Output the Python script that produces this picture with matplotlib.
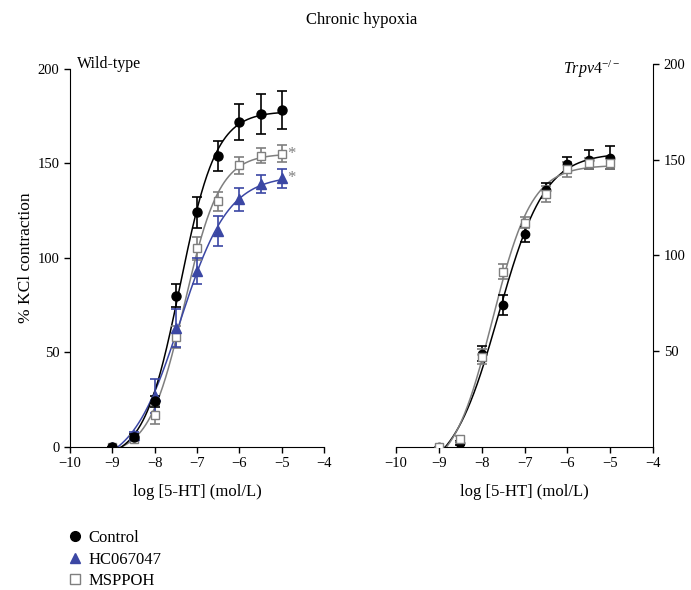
import numpy as np
import matplotlib
matplotlib.use('Agg')
from matplotlib import pyplot as plt
from matplotlib.lines import Line2D

plt.rcParams['font.family'] = ['Liberation Serif', 'DejaVu Serif']
plt.rcParams['mathtext.fontset'] = 'custom'
plt.rcParams['mathtext.rm'] = 'Liberation Serif'
plt.rcParams['mathtext.it'] = 'Liberation Serif:italic'
plt.rcParams['font.size'] = 10

log_dose = [-9, -8.5, -8, -7.5, -7, -6.5, -6, -5.5, -5]

# wild-type
wt_control = [0, 5, 24, 80, 124, 154, 172, 176, 178]
wt_control_err = [0, 1.5, 3, 6, 8, 8, 9.5, 10.5, 10]
wt_hc = [0, 6, 27, 63, 93, 114, 131, 139, 142]
wt_hc_err = [0, 2, 9, 10, 7, 8, 6, 5, 5]
wt_ms = [0, 4, 17, 58, 105, 130, 149, 154, 155]
wt_ms_err = [0, 1.5, 5, 6, 6, 5, 4.5, 4, 4.5]

# Trpv4 -/-
ko_control = [0, 2, 48.5, 74, 111, 134, 147.5, 150, 151]
ko_control_err = [0, 1, 4, 5, 4, 4, 4, 5, 6]
ko_ms = [0, 4, 47, 91.5, 117, 132, 145, 148, 148]
ko_ms_err = [0, 1.5, 4, 4, 3, 4, 4, 3, 3]

BLACK = 'black'
BLUE = '#3b47a4'
GRAY = '#7f7f7f'


def hill_fit(x, y):
    # 4-parameter logistic, grid over logEC50 / slope, linear solve for bottom/top
    x = np.asarray(x, float)
    y = np.asarray(y, float)
    best = None
    for c in np.arange(-8.5, -6.0, 0.01):
        for h in np.arange(0.5, 2.5, 0.02):
            f = 1 / (1 + 10 ** ((c - x) * h))
            A = np.column_stack([1 - f, f])
            coef = np.linalg.lstsq(A, y, rcond=None)[0]
            sse = np.sum((A @ coef - y) ** 2)
            if best is None or sse < best[0]:
                best = (sse, c, h, coef[0], coef[1])
    _, c, h, b, t = best
    xs = np.linspace(-9, -5, 300)
    f = 1 / (1 + 10 ** ((c - xs) * h))
    return xs, b + (t - b) * f


def series(ax, x, y, err, color, marker, face, ms):
    xs, ys = hill_fit(x, y)
    ax.plot(xs, ys, '-', color=color, lw=1.1, zorder=2)
    ax.errorbar(x, y, yerr=err, fmt=marker, color=color, mfc=face, mec=color,
                ms=ms, capsize=3.5, elinewidth=1.2, capthick=1.2, zorder=3)


fig = plt.figure(figsize=(6.91, 5.90), dpi=100)
ax1 = fig.add_axes([0.1013, 0.2429, 0.3676, 0.6405])
ax2 = fig.add_axes([0.5727, 0.2432, 0.3728, 0.6483])

series(ax1, log_dose, wt_ms, wt_ms_err, GRAY, 's', 'white', 5.5)
series(ax1, log_dose, wt_hc, wt_hc_err, BLUE, '^', BLUE, 7)
series(ax1, log_dose, wt_control, wt_control_err, BLACK, 'o', BLACK, 6.5)
ax1.text(-4.88, wt_ms[-1], '*', color=GRAY, fontsize=12, va='center', ha='left')
ax1.text(-4.88, wt_hc[-1], '*', color=GRAY, fontsize=12, va='center', ha='left')

series(ax2, log_dose, ko_control, ko_control_err, BLACK, 'o', BLACK, 6)
series(ax2, log_dose, ko_ms, ko_ms_err, GRAY, 's', 'white', 6)

for ax in (ax1, ax2):
    ax.set_xlim(-10, -4)
    ax.set_ylim(0, 200)
    ax.set_xticks(range(-10, -3))
    ax.spines['top'].set_visible(False)
    ax.tick_params(direction='out', length=4, width=1, labelsize=10.5)
    ax.set_xlabel('log [5-HT] (mol/L)', fontsize=12, labelpad=10)

ax1.spines['right'].set_visible(False)
ax1.set_yticks([0, 50, 100, 150, 200])
ax1.set_ylabel('% KCl contraction', fontsize=12.5, labelpad=2.5)
ax1.text(0.028, 1.012, 'Wild-type', transform=ax1.transAxes, fontsize=11.5,
         ha='left', va='center')

ax2.spines['left'].set_visible(False)
ax2.yaxis.tick_right()
ax2.set_yticks([50, 100, 150, 200])
ax2.text(0.87, 0.985, r'$\mathit{Trpv4}^{-/-}$', transform=ax2.transAxes,
         fontsize=11.5, ha='right', va='center')

fig.text(0.524, 0.966, 'Chronic hypoxia', ha='center', va='center', fontsize=12)

handles = [
    Line2D([], [], ls='none', marker='o', color=BLACK, ms=7),
    Line2D([], [], ls='none', marker='^', color=BLUE, ms=7),
    Line2D([], [], ls='none', marker='s', mfc='white', mec=GRAY, color=GRAY, ms=6.5),
]
fig.legend(handles, ['Control', 'HC067047', 'MSPPOH'], loc='upper left',
           bbox_to_anchor=(0.087, 0.1155), frameon=False, fontsize=12,
           handlelength=0.8, handletextpad=0.38, labelspacing=0.32, borderpad=0)

plt.savefig('out.png', dpi=100)
